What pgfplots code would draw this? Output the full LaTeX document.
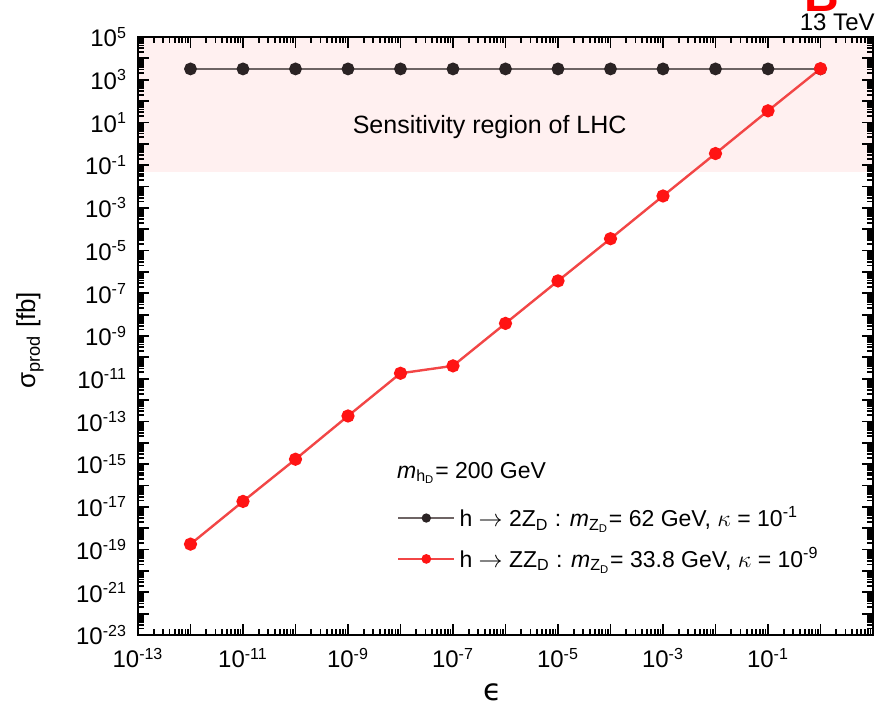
\documentclass[border=0pt]{standalone}
\usepackage{pgfplots}
\pgfplotsset{compat=1.18}
\usepackage{fontspec}
\setmainfont{Liberation Sans}
\newfontfamily\dejavu{DejaVu Sans}
\definecolor{pinkfill}{RGB}{255,240,240}
\definecolor{blkmark}{RGB}{43,35,36}
\definecolor{blkline}{RGB}{110,100,100}
\definecolor{redmark}{RGB}{255,20,20}
\definecolor{redline}{RGB}{242,70,70}

\def\minorx{1e-20}
\foreach \e in {-13,...,0}{\foreach \m in {2,...,9}{\xdef\minorx{\minorx,\m e\e}}}
\def\minory{1e-30}
\foreach \e in {-23,...,4}{\foreach \m in {2,...,9}{\xdef\minory{\minory,\m e\e}}}

\pgfplotstableread{
eps sig
1e-12 3200
1e-11 3200
1e-10 3200
1e-9 3200
1e-8 3200
1e-7 3200
1e-6 3200
1e-5 3200
1e-4 3200
1e-3 3200
1e-2 3200
1e-1 3200
1 3200
}\blackdata
\pgfplotstableread{
eps sig
1e-12 1.8e-19
1e-11 1.8e-17
1e-10 1.7e-15
1e-9 1.8e-13
1e-8 1.8e-11
1e-7 4e-11
1e-6 3.9e-9
1e-5 3.8e-7
1e-4 3.6e-5
1e-3 3.6e-3
1e-2 0.35
1e-1 35
1 3300
}\reddata

\begin{document}
\begin{tikzpicture}
\begin{axis}[
  at={(0,0)}, anchor=south west,
  width=367.5pt, height=299pt, scale only axis,
  xmode=log, ymode=log, log basis x=10, log basis y=10,
  xmin=1e-13, xmax=10, ymin=1e-23, ymax=1e5,
  xtick={1e-13,1e-12,1e-11,1e-10,1e-9,1e-8,1e-7,1e-6,1e-5,1e-4,1e-3,1e-2,1e-1,1,10},
  xticklabels={{10\textsuperscript{-13}},{},{10\textsuperscript{-11}},{},{10\textsuperscript{-9}},{},{10\textsuperscript{-7}},{},{10\textsuperscript{-5}},{},{10\textsuperscript{-3}},{},{10\textsuperscript{-1}},{},{}},
  ytick={1e-23,1e-22,1e-21,1e-20,1e-19,1e-18,1e-17,1e-16,1e-15,1e-14,1e-13,1e-12,1e-11,1e-10,1e-9,1e-8,1e-7,1e-6,1e-5,1e-4,1e-3,1e-2,1e-1,1,10,100,1000,1e4,1e5},
  yticklabels={{10\textsuperscript{-23}},{},{10\textsuperscript{-21}},{},{10\textsuperscript{-19}},{},{10\textsuperscript{-17}},{},{10\textsuperscript{-15}},{},{10\textsuperscript{-13}},{},{10\textsuperscript{-11}},{},{10\textsuperscript{-9}},{},{10\textsuperscript{-7}},{},{10\textsuperscript{-5}},{},{10\textsuperscript{-3}},{},{10\textsuperscript{-1}},{},{10\textsuperscript{1}},{},{10\textsuperscript{3}},{},{10\textsuperscript{5}}},
  minor xtick/.expand once=\minorx,
  minor ytick/.expand once=\minory,
  tick align=inside,
  major tick length=5.5pt, minor tick length=2.8pt,
  every tick/.style={line width=0.9pt, black},
  axis line style={line width=1.4pt},
  axis on top,
  ticklabel style={font=\fontsize{12}{14}\selectfont},
  xticklabel style={yshift=-3pt},
  yticklabel style={xshift=-2pt},
  xlabel={\dejavu ϵ},
  xlabel style={at={(axis description cs:0.483,-0.095)}, anchor=center, font=\fontsize{15}{18}\selectfont},
  ylabel={σ\textsubscript{prod} [fb]},
  ylabel style={at={(axis description cs:-0.147,0.493)}, anchor=center, font=\fontsize{13}{15}\selectfont},
  legend style={draw=none, fill=none, at={(axis description cs:0.352,0.222)}, anchor=north west,
    inner sep=0pt, row sep=5pt, font=\fontsize{11.5}{13}\selectfont, legend cell align=left},
  legend image code/.code={\draw[mark repeat=2,mark phase=2,#1,mark size=1.8pt] plot coordinates {(0pt,0pt)(14pt,0pt)(28pt,0pt)};},
]
\fill[pinkfill] (axis cs:1e-13,0.05) rectangle (axis cs:10,1e5);
\addplot[color=blkline, line width=1pt, mark=*, mark size=2.7pt, mark options={draw=blkmark, fill=blkmark}] table[x=eps,y=sig] {\blackdata};
\addlegendentry{h $\rightarrow$ 2Z\textsubscript{D} : \textit{m}\textsubscript{Z\textsubscript{D}}= 62 GeV, $\kappa$ = 10\textsuperscript{-1}}
\addplot[color=redline, line width=1.2pt, mark=*, mark size=2.7pt, mark options={draw=redmark, fill=redmark}] table[x=eps,y=sig] {\reddata};
\addlegendentry{h $\rightarrow$ ZZ\textsubscript{D} : \textit{m}\textsubscript{Z\textsubscript{D}}= 33.8 GeV, $\kappa$ = 10\textsuperscript{-9}}
\node[font=\fontsize{12.5}{14}\selectfont] at (axis cs:5e-7,6) {Sensitivity region of LHC};
\node[anchor=west, inner sep=0pt, font=\fontsize{11.5}{13}\selectfont] at (axis description cs:0.352,0.271) {\textit{m}\textsubscript{h\textsubscript{D}}= 200 GeV};
\end{axis}
\node[anchor=base east, inner sep=0pt, font=\fontsize{12}{14}\selectfont] at (368.5pt,302pt) {13 TeV};
\node[overlay, anchor=base west, inner sep=0pt, text=red, font=\fontsize{24}{26}\bfseries] at (333pt,311.5pt) {B};
\pgfresetboundingbox
\useasboundingbox (-69pt,-41.5pt) rectangle (369pt,317.5pt);
\end{tikzpicture}
\end{document}
